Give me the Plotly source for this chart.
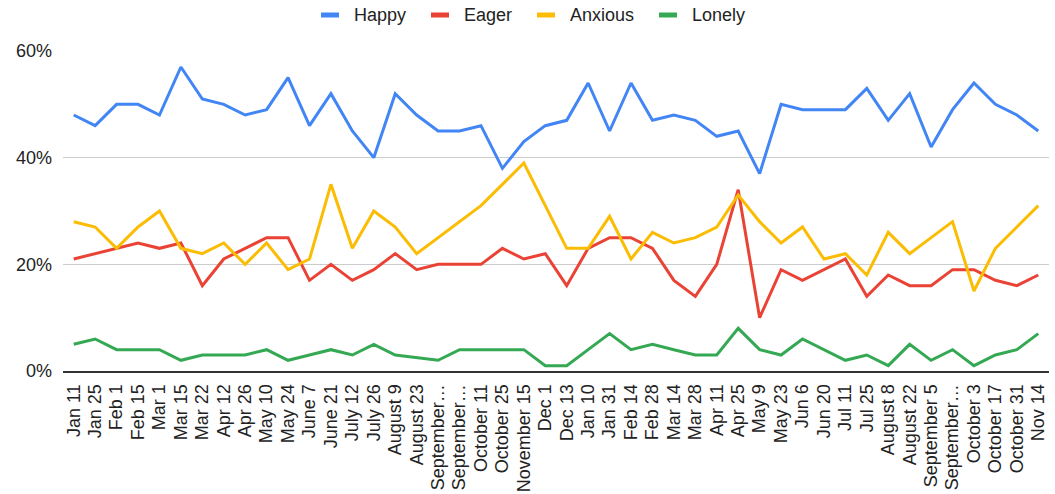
import plotly.graph_objects as go

# Survey dates (x-axis labels)
dates = [
    "Jan 11", "Jan 25", "Feb 1", "Feb 15", "Mar 1", "Mar 15", "Mar 22", "Apr 12",
    "Apr 26", "May 10", "May 24", "June 7", "June 21", "July 12", "July 26",
    "August 9", "August 23", "September…", "September…", "October 11",
    "October 25", "November 15", "Dec 1", "Dec 13", "Jan 10", "Jan 31", "Feb 14",
    "Feb 28", "Mar 14", "Mar 28", "Apr 11", "Apr 25", "May 9", "May 23", "Jun 6",
    "Jun 20", "Jul 11", "Jul 25", "August 8", "August 22", "September 5",
    "September…", "October 3", "October 17", "October 31", "Nov 14",
]

# Share of respondents reporting each feeling (%)
happy = [48, 46, 50, 50, 48, 57, 51, 50, 48, 49, 55, 46, 52, 45, 40, 52, 48, 45,
         45, 46, 38, 43, 46, 47, 54, 45, 54, 47, 48, 47, 44, 45, 37, 50, 49, 49,
         49, 53, 47, 52, 42, 49, 54, 50, 48, 45]
eager = [21, 22, 23, 24, 23, 24, 16, 21, 23, 25, 25, 17, 20, 17, 19, 22, 19, 20,
         20, 20, 23, 21, 22, 16, 23, 25, 25, 23, 17, 14, 20, 34, 10, 19, 17, 19,
         21, 14, 18, 16, 16, 19, 19, 17, 16, 18]
anxious = [28, 27, 23, 27, 30, 23, 22, 24, 20, 24, 19, 21, 35, 23, 30, 27, 22, 25,
           28, 31, 35, 39, 31, 23, 23, 29, 21, 26, 24, 25, 27, 33, 28, 24, 27, 21,
           22, 18, 26, 22, 25, 28, 15, 23, 27, 31]
lonely = [5, 6, 4, 4, 4, 2, 3, 3, 3, 4, 2, 3, 4, 3, 5, 3, 2.5, 2, 4, 4, 4, 4, 1, 1,
          4, 7, 4, 5, 4, 3, 3, 8, 4, 3, 6, 4, 2, 3, 1, 5, 2, 4, 1, 3, 4, 7]

series_names = ["Happy", "Eager", "Anxious", "Lonely"]
series_values = [happy, eager, anxious, lonely]
series_colors = ["#4285F4", "#EA4335", "#FBBC04", "#34A853"]
y_ticks = [0, 20, 40, 60]

FONT = "Arial, 'Liberation Sans', sans-serif"
TEXT = "#222222"

W, H = 1055, 494
M_L, M_R, M_T, M_B = 63, 6, 51, 123
plot_w = W - M_L - M_R
plot_h = H - M_T - M_B

x_idx = list(range(len(dates)))

fig = go.Figure()
for name, vals, col in zip(series_names, series_values, series_colors):
    fig.add_trace(go.Scatter(
        x=x_idx, y=vals, mode="lines", name=name,
        line=dict(color=col, width=3), showlegend=False,
    ))

# Legend row along the top: short colour bar followed by the series name
legend_left_px = [321, 431, 537, 659]
legend_y = 1 + (M_T - 15) / plot_h
for name, col, px in zip(series_names, series_colors, legend_left_px):
    fig.add_shape(
        type="line", xref="paper", yref="paper",
        x0=(px - M_L) / plot_w, x1=(px + 18 - M_L) / plot_w,
        y0=legend_y, y1=legend_y,
        line=dict(color=col, width=5),
    )
    fig.add_annotation(
        xref="paper", yref="paper",
        x=(px + 31 - M_L) / plot_w, y=legend_y,
        xanchor="left", yanchor="middle", showarrow=False,
        text=name, font=dict(family=FONT, size=18, color=TEXT),
    )

fig.update_layout(
    width=W, height=H,
    margin=dict(l=M_L, r=M_R, t=M_T, b=M_B),
    paper_bgcolor="white", plot_bgcolor="white",
    font=dict(family=FONT, size=18, color=TEXT),
    showlegend=False,
)
fig.update_xaxes(
    range=[-0.5, len(dates) - 0.5],
    tickmode="array", tickvals=x_idx, ticktext=dates,
    tickangle=-90, tickfont=dict(size=18, color=TEXT),
    showgrid=False, zeroline=False,
    showline=True, linecolor="#333333", linewidth=2,
    ticks="", ticklabelstandoff=4, automargin=False,
)
fig.update_yaxes(
    range=[0, 60],
    tickmode="array", tickvals=y_ticks, ticktext=[f"{v}%" for v in y_ticks],
    tickfont=dict(size=18, color=TEXT),
    showgrid=True, gridcolor="#cccccc", gridwidth=1,
    zeroline=False, showline=False,
    ticks="", ticklabelstandoff=10, automargin=False,
)

fig.write_html("out.html")
